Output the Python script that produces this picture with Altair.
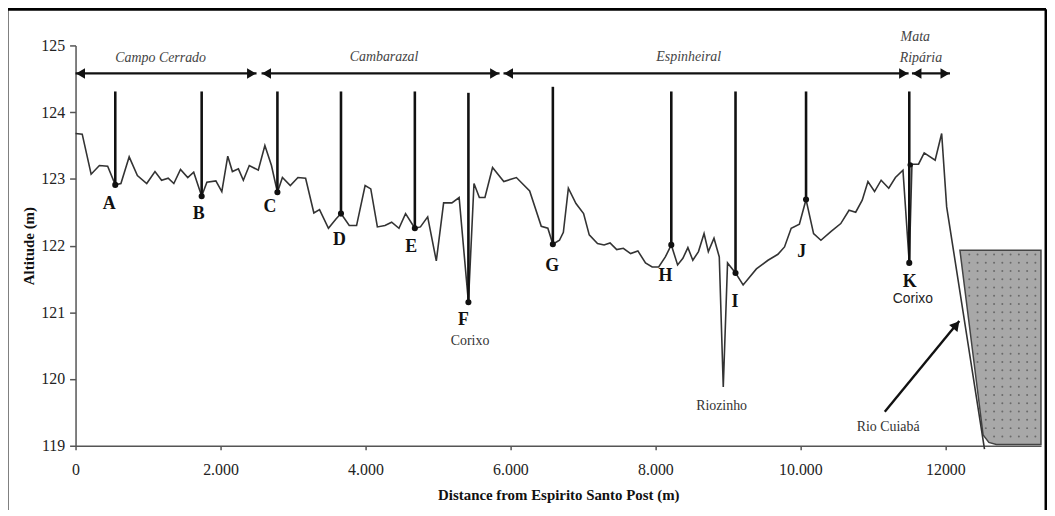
import altair as alt
import pandas as pd
import numpy as np

# ---- elevation profile (distance m, altitude m) ----
dist = [0, 92, 215, 329, 443, 548, 626, 740, 853, 982, 1096, 1187, 1278, 1356, 1448,
        1548, 1630, 1740, 1812, 1936, 2018, 2100, 2164, 2247, 2315, 2397, 2521, 2612,
        2703, 2785, 2854, 2963, 3068, 3174, 3288, 3366, 3489, 3593, 3662, 3776, 3877,
        3995, 4073, 4164, 4269, 4361, 4462, 4553, 4681, 4758, 4858, 4977, 5078, 5192,
        5292, 5420, 5497, 5571, 5648, 5753, 5908, 6082, 6265, 6425, 6516, 6585, 6676,
        6730, 6799, 6904, 7009, 7087, 7201, 7292, 7374, 7466, 7557, 7658, 7758, 7863,
        7955, 8045, 8137, 8219, 8306, 8379, 8448, 8516, 8594, 8671, 8730, 8808, 8881,
        8936, 8995, 9105, 9210, 9393, 9553, 9690, 9781, 9873, 9986, 10078, 10182,
        10283, 10420, 10557, 10671, 10763, 10853, 10932, 11023, 11114, 11219, 11311,
        11415, 11502, 11539, 11630, 11708, 11859, 11949, 12018, 12540]
altitude = [123.68, 123.67, 123.07, 123.20, 123.19, 122.91, 122.93, 123.33, 123.05,
            122.93, 123.11, 122.98, 123.01, 122.93, 123.14, 123.02, 123.10, 122.74,
            122.95, 122.97, 122.81, 123.34, 123.11, 123.15, 122.98, 123.20, 123.13,
            123.50, 123.20, 122.80, 123.02, 122.90, 123.02, 123.01, 122.49, 122.54,
            122.26, 122.40, 122.48, 122.30, 122.30, 122.90, 122.85, 122.28, 122.30,
            122.35, 122.26, 122.48, 122.26, 122.28, 122.43, 121.77, 122.64, 122.64,
            122.72, 121.15, 122.93, 122.72, 122.72, 123.17, 122.96, 123.02, 122.82,
            122.29, 122.26, 122.02, 122.08, 122.20, 122.86, 122.63, 122.48, 122.16,
            122.03, 122.01, 122.04, 121.94, 121.96, 121.88, 121.92, 121.74, 121.68,
            121.68, 121.83, 122.01, 121.71, 121.81, 121.97, 121.78, 121.91, 122.18,
            121.91, 122.11, 121.83, 119.88, 121.74, 121.59, 121.41, 121.65, 121.78,
            121.87, 121.98, 122.26, 122.32, 122.69, 122.18, 122.08, 122.21, 122.33,
            122.53, 122.50, 122.68, 122.96, 122.81, 122.98, 122.86, 123.02, 123.13,
            121.74, 123.22, 123.22, 123.39, 123.28, 123.68, 122.58, 118.95]

# ---- sampling points A-K ----
pointer_names = list("ABCDEFGHIJK")
pointer_x = [548, 1740, 2785, 3662, 4681, 5420, 6585, 8219, 9105, 10078, 11502]
pointer_top = [124.31, 124.31, 124.31, 124.31, 124.31, 124.29, 124.38, 124.31, 124.31, 124.31, 124.31]
pointer_bottom = [122.91, 122.74, 122.80, 122.48, 122.26, 121.15, 122.02, 122.01, 121.59, 122.69, 121.74]
label_x = [466, 1699, 2681, 3640, 4630, 5352, 6575, 8137, 9096, 10018, 11507]
label_y = [122.63, 122.48, 122.58, 122.09, 121.98, 120.89, 121.70, 121.54, 121.16, 121.91, 121.46]
extra_dot_x = [11515]
extra_dot_y = [123.21]

# ---- vegetation zones ----
zone_start = [0, 2566, 5904, 11539]
zone_end = [2497, 5850, 11493, 12064]
zone_line_y = 124.58
zone_text = ["Campo Cerrado", "Cambarazal", "Espinheiral", "Mata", "Ripária"]
zone_text_x = [1174, 4256, 8460, 11585, 11662]
zone_text_y = [124.81, 124.83, 124.83, 125.13, 124.81]

# ---- annotations ----
serif_notes = ["Corixo", "Riozinho", "Rio Cuiabá"]
serif_notes_x = [5443, 8913, 11210]
serif_notes_y = [120.57, 119.60, 119.28]
sans_notes = ["Corixo"]
sans_notes_x = [11552]
sans_notes_y = [121.20]
arrow_x = [11164, 12192]
arrow_y = [119.51, 120.87]

# ---- river (Rio Cuiabá) cross-section ----
river_y = [121.93, 119.16, 119.05, 119.02]
river_left = [12201, 12521, 12600, 12703]
river_right = [13319, 13319, 13319, 13319]

SERIF = "Liberation Serif, Times New Roman, serif"
SANS = "Liberation Sans, Arial, sans-serif"
XD = [0, 13320]
YD = [119, 125]

xs = alt.Scale(domain=XD, nice=False, zero=False)
ys = alt.Scale(domain=YD, nice=False, zero=False)

prof_df = pd.DataFrame({"d": dist, "a": altitude})
profile = alt.Chart(prof_df).mark_line(color="#333333", strokeWidth=1.6, clip=False).encode(
    x=alt.X("d:Q", scale=xs, axis=alt.Axis(
        title="Distance from Espirito Santo Post (m)",
        values=[0, 2000, 4000, 6000, 8000, 10000, 12000],
        labelExpr="datum.value == 12000 ? '12000' : replace(format(datum.value, ','), ',', '.')",
        grid=False, tickSize=4, labelPadding=12, labelFontSize=16, labelFont=SERIF,
        labelColor="#222", titleFont=SERIF, titleFontSize=15, titleFontWeight="bold",
        titleColor="#111", titlePadding=10, domainColor="#555", domainWidth=1.5,
        tickColor="#555", tickWidth=1.5, labelFlush=False)),
    y=alt.Y("a:Q", scale=ys, axis=alt.Axis(
        title="Altitude (m)", values=[119, 120, 121, 122, 123, 124, 125], format="d",
        grid=False, tickSize=6, labelPadding=5, labelFontSize=16, labelFont=SERIF,
        labelColor="#222", titleFont=SERIF, titleFontSize=15, titleFontWeight="bold",
        titleColor="#111", titlePadding=4, domainColor="#555", domainWidth=1.5,
        tickColor="#555", tickWidth=1.5)),
    order="d:Q",
)

# river polygon
riv_df = pd.DataFrame({"y": river_y, "xl": river_left, "xr": river_right})
river = alt.Chart(riv_df).mark_area(orient="horizontal", color="#a8a8a8", stroke="#444",
                                    strokeWidth=1.5, opacity=1).encode(
    y=alt.Y("y:Q", scale=ys), x=alt.X("xl:Q", scale=xs), x2="xr:Q")

# dot texture inside the river
gx, gy = np.meshgrid(np.arange(12330, 13300, 114), np.arange(119.14, 121.9, 0.124))
gx, gy = gx.ravel(), gy.ravel()
left_edge = 12201 + (121.93 - gy) / (121.93 - 119.16) * 320
keep = gx > left_edge + 40
tex_df = pd.DataFrame({"x": gx[keep], "y": gy[keep]})
texture = alt.Chart(tex_df).mark_circle(color="#6a6a6a", size=4, opacity=1).encode(
    x=alt.X("x:Q", scale=xs), y=alt.Y("y:Q", scale=ys))

ptr_df = pd.DataFrame({"n": pointer_names, "x": pointer_x, "t": pointer_top, "b": pointer_bottom})
pointers = alt.Chart(ptr_df).mark_rule(color="#111", strokeWidth=2.6).encode(
    x=alt.X("x:Q", scale=xs), y=alt.Y("t:Q", scale=ys), y2="b:Q")
dots = alt.Chart(ptr_df).mark_circle(color="#111", size=38, opacity=1).encode(
    x=alt.X("x:Q", scale=xs), y=alt.Y("b:Q", scale=ys))
extra = alt.Chart(pd.DataFrame({"x": extra_dot_x, "y": extra_dot_y})).mark_circle(
    color="#111", size=30, opacity=1).encode(x=alt.X("x:Q", scale=xs), y=alt.Y("y:Q", scale=ys))

lab_df = pd.DataFrame({"n": pointer_names, "x": label_x, "y": label_y})
letters = alt.Chart(lab_df).mark_text(font=SERIF, fontSize=18, fontWeight="bold",
                                      color="#111", baseline="middle").encode(
    x=alt.X("x:Q", scale=xs), y=alt.Y("y:Q", scale=ys), text="n:N")

zone_df = pd.DataFrame({"s": zone_start, "e": zone_end, "y": [zone_line_y] * 4})
zone_lines = alt.Chart(zone_df).mark_rule(color="#111", strokeWidth=2.2).encode(
    x=alt.X("s:Q", scale=xs), x2="e:Q", y=alt.Y("y:Q", scale=ys))
heads_l = alt.Chart(zone_df).mark_point(shape="triangle-left", filled=True, color="#111",
                                        size=110, opacity=1, xOffset=5).encode(
    x=alt.X("s:Q", scale=xs), y=alt.Y("y:Q", scale=ys))
heads_r = alt.Chart(zone_df).mark_point(shape="triangle-right", filled=True, color="#111",
                                        size=110, opacity=1, xOffset=-5).encode(
    x=alt.X("e:Q", scale=xs), y=alt.Y("y:Q", scale=ys))

ztext_df = pd.DataFrame({"t": zone_text, "x": zone_text_x, "y": zone_text_y})
zone_labels = alt.Chart(ztext_df).mark_text(font=SERIF, fontSize=14, fontStyle="italic",
                                            color="#444", baseline="middle").encode(
    x=alt.X("x:Q", scale=xs), y=alt.Y("y:Q", scale=ys), text="t:N")

sn_df = pd.DataFrame({"t": serif_notes, "x": serif_notes_x, "y": serif_notes_y})
serif_txt = alt.Chart(sn_df).mark_text(font=SERIF, fontSize=14, color="#333",
                                       baseline="middle").encode(
    x=alt.X("x:Q", scale=xs), y=alt.Y("y:Q", scale=ys), text="t:N")
ss_df = pd.DataFrame({"t": sans_notes, "x": sans_notes_x, "y": sans_notes_y})
sans_txt = alt.Chart(ss_df).mark_text(font=SANS, fontSize=14, color="#222",
                                      baseline="middle").encode(
    x=alt.X("x:Q", scale=xs), y=alt.Y("y:Q", scale=ys), text="t:N")

arr_df = pd.DataFrame({"x": [arrow_x[0]], "y": [arrow_y[0]], "x2": [arrow_x[1]], "y2": [arrow_y[1]]})
arrow_line = alt.Chart(arr_df).mark_rule(color="#111", strokeWidth=2.4).encode(
    x=alt.X("x:Q", scale=xs), y=alt.Y("y:Q", scale=ys), x2="x2:Q", y2="y2:Q")
arrow_head = alt.Chart(arr_df).mark_point(shape="triangle-up", filled=True, color="#111",
                                          size=120, opacity=1, angle=40,
                                          xOffset=-3, yOffset=4).encode(
    x=alt.X("x2:Q", scale=xs), y=alt.Y("y2:Q", scale=ys))

# outer frame (left, top, right edges)
frame_src = alt.Data(values=[{}])
frame_left = alt.Chart(frame_src).mark_rule(color="#000", strokeWidth=3).encode(
    x=alt.value(-69), y=alt.value(-36.5), y2=alt.value(480))
frame_top = alt.Chart(frame_src).mark_rule(color="#000", strokeWidth=3).encode(
    x=alt.value(-69), x2=alt.value(977), y=alt.value(-36.5))
frame_right = alt.Chart(frame_src).mark_rule(color="#000", strokeWidth=3).encode(
    x=alt.value(977), y=alt.value(-36.5), y2=alt.value(480))

chart = alt.layer(
    river, texture, profile, pointers, dots, extra, letters, zone_lines, heads_l, heads_r,
    zone_labels, serif_txt, sans_txt, arrow_line, arrow_head,
    frame_left, frame_top, frame_right,
).properties(
    width=972, height=403,
    padding={"left": 68, "top": 36, "right": 6, "bottom": 63},
    autosize=alt.AutoSizeParams(type="none"),
    background="white",
).configure_view(stroke=None).configure_axis(
    labelFont=SERIF, titleFont=SERIF
).configure_text(font=SERIF)

chart.save("out.html", embed_options={"renderer": "svg", "actions": False})
